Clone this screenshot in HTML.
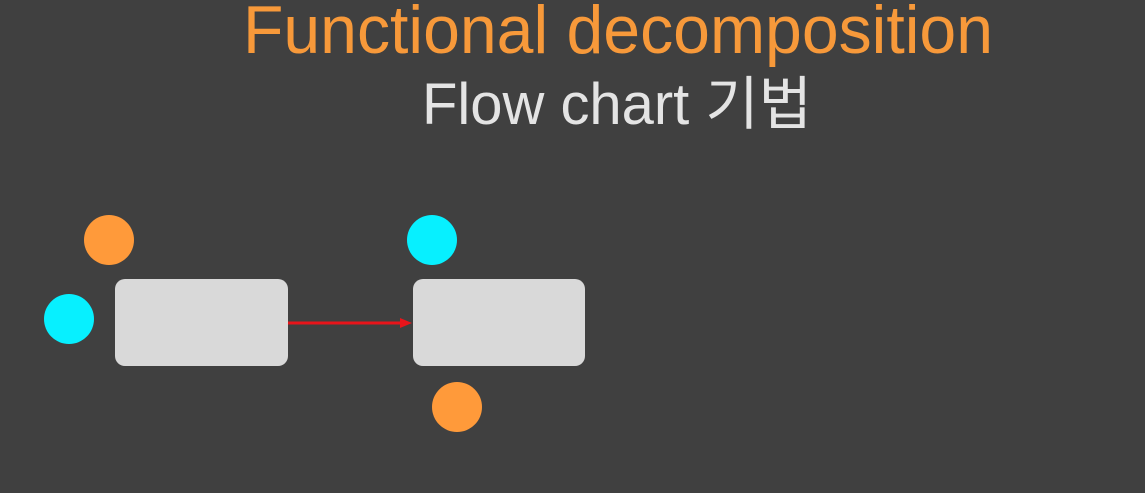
<!DOCTYPE html>
<html><head><meta charset="utf-8"><style>
html,body{margin:0;padding:0;background:#404040;width:1145px;height:493px;overflow:hidden}
</style></head><body>
<svg width="1145" height="493" xmlns="http://www.w3.org/2000/svg">
<rect width="1145" height="493" fill="#404040"/>
<text x="243" y="53" font-family="Liberation Sans, sans-serif" font-size="68" fill="#f7993a" textLength="750" lengthAdjust="spacingAndGlyphs" font-weight="normal" style="font-weight:300">Functional decomposition</text>
<text x="422" y="124" font-family="Liberation Sans, Noto Sans CJK KR, sans-serif" font-size="58" fill="#e4e4e4" textLength="390" lengthAdjust="spacingAndGlyphs">Flow chart 기법</text>
<rect x="115" y="279" width="173" height="87" rx="10" fill="#d9d9d9"/>
<rect x="413" y="279" width="172" height="87" rx="10" fill="#d9d9d9"/>
<line x1="288" y1="323" x2="402" y2="323" stroke="#e8141a" stroke-width="3"/>
<polygon points="400,318 412,323 400,328" fill="#e8141a"/>
<circle cx="109" cy="240" r="25" fill="#ff9a3a"/>
<circle cx="69" cy="319" r="25" fill="#07f0ff"/>
<circle cx="432" cy="240" r="25" fill="#07f0ff"/>
<circle cx="457" cy="407" r="25" fill="#ff9a3a"/>
</svg>
</body></html>
